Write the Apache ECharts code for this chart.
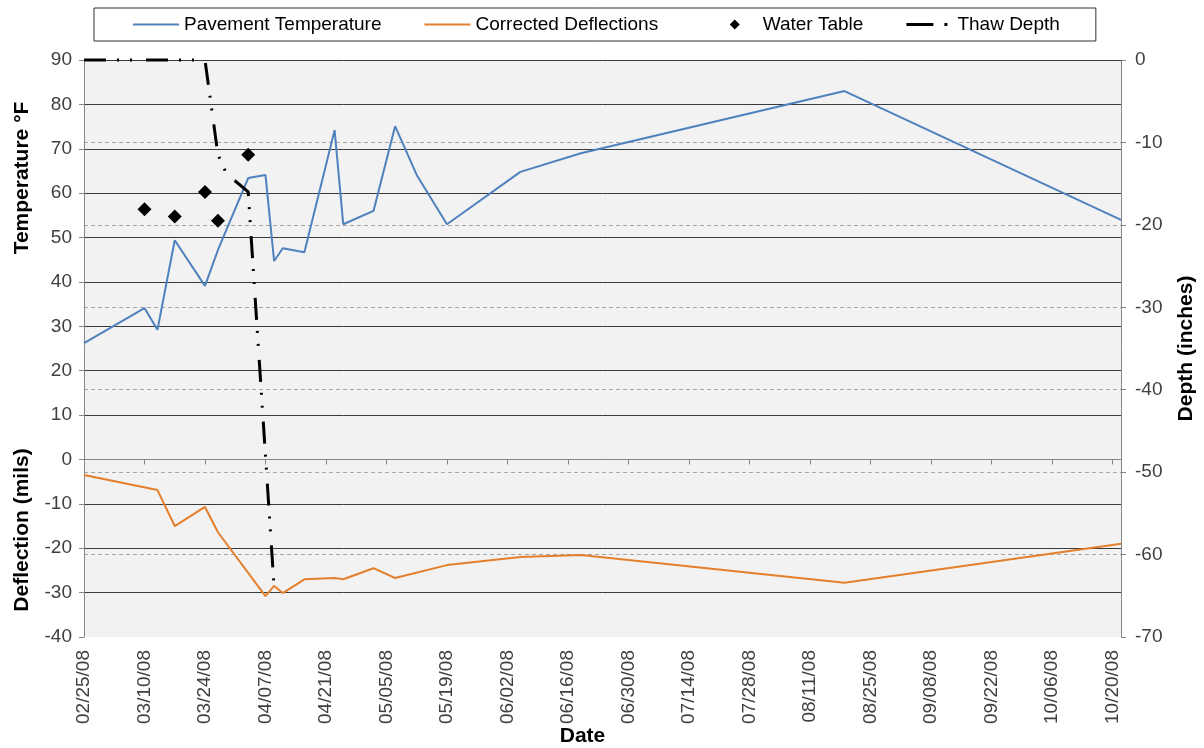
<!DOCTYPE html>
<html>
<head>
<meta charset="utf-8">
<script src="https://cdn.jsdelivr.net/npm/echarts@6/dist/echarts.min.js"></script>
<style>
  html, body { margin: 0; background: #fff; }
  #chart { width: 1204px; height: 748px; }
</style>
</head>
<body>
<div id="chart"></div>
<script>
// sample dates (pavement temperature / deflection)
const dates = ['2008-02-25', '2008-03-10', '2008-03-13', '2008-03-17', '2008-03-24', '2008-03-27',
  '2008-04-03', '2008-04-07', '2008-04-09', '2008-04-11', '2008-04-16', '2008-04-23', '2008-04-25',
  '2008-05-02', '2008-05-07', '2008-05-12', '2008-05-19', '2008-06-05', '2008-06-19', '2008-08-19',
  '2008-10-22']
const temperature = [26.2, 34.1, 29.2, 49.4, 39.1, 47.2, 63.4, 64.1, 44.7, 47.6, 46.7, 74.2, 53.0,
  56.0, 75.1, 64.1, 53.0, 64.8, 69.0, 83.0, 54.0]
const deflection = [-3.5, null, -6.9, -15.0, -10.7, -16.4, null, -30.8, -28.5, -30.1, -27.0, -26.7,
  -27.0, -24.5, -26.7, null, -23.8, -22.0, -21.5, -27.8, -19.0]

// right axis (inches)
const waterDates = ['2008-03-10', '2008-03-17', '2008-03-24', '2008-03-27', '2008-04-03']
const waterTable = [-18.1, -19.0, -16.0, -19.5, -11.5]
const thawDates = ['2008-02-25', '2008-03-24', '2008-03-27', '2008-03-29', '2008-04-03', '2008-04-09']
const thawDepth = [0, 0, -11.5, -13.8, -16.0, -64.0]

const DAY = 86400000
const toTime = s => Date.parse(s + 'T00:00:00Z')
const xMin = toTime('2008-02-25')
const xMax = toTime('2008-10-22')
const xTicks = Array.from({ length: 18 }, (_, i) => xMin + i * 14 * DAY)

const pairs = (xs, ys) => xs.map((d, i) => [toTime(d), ys[i]]).filter(p => p[1] !== null)

const pad = n => (n < 10 ? '0' : '') + n
const fmtDate = v => {
  const d = new Date(v)
  return `${pad(d.getUTCMonth() + 1)}/${pad(d.getUTCDate())}/${pad(d.getUTCFullYear() % 100)}`
}

const FONT = "'Liberation Sans', Arial, sans-serif"
const axisGray = '#868686'

// legend icons drawn in a 46x10 box (the two zero-length moves fix the box)
const BOX = 'M0,0 L0,0 M46,10 L46,10 '
const lineIcon = 'path://' + BOX + 'M0,4 H46 V6 H0 Z'
const diamondIcon = 'path://' + BOX + 'M18,5 L23,0 L28,5 L23,10 Z'
const thawIcon = 'path://' + BOX + 'M0,3.5 H27 V6.5 H0 Z M38,3.5 H41 V6.5 H38 Z'

const chart = echarts.init(document.getElementById('chart'))

const option = {
  animation: false,
  textStyle: { fontFamily: FONT },
  grid: {
    left: 84,
    right: 83,
    top: 60,
    bottom: 111,
    outerBoundsMode: 'none',
    show: true,
    backgroundColor: '#f2f2f2',
    borderWidth: 0
  },
  legend: {
    left: 94,
    top: 8,
    padding: [7, 36, 7, 39],
    borderColor: '#333',
    borderWidth: 1,
    itemGap: 43,
    itemWidth: 46,
    itemHeight: 10,
    textStyle: { fontSize: 19, color: '#000', fontFamily: FONT },
    // a little more room after the deflection entry, as in the original
    formatter: name => (name === 'Corrected Deflections' ? name + '  ' : name),
    data: [
      { name: 'Pavement Temperature', icon: lineIcon },
      { name: 'Corrected Deflections', icon: lineIcon },
      { name: 'Water Table', icon: diamondIcon },
      { name: 'Thaw Depth', icon: thawIcon }
    ]
  },
  graphic: [
    {
      type: 'text',
      x: 22,
      y: 178,
      rotation: Math.PI / 2,
      style: { text: 'Temperature °F', font: `bold 21px ${FONT}`, fill: '#000', align: 'center', verticalAlign: 'middle' }
    },
    {
      type: 'text',
      x: 22,
      y: 530,
      rotation: Math.PI / 2,
      style: { text: 'Deflection (mils)', font: `bold 21px ${FONT}`, fill: '#000', align: 'center', verticalAlign: 'middle' }
    }
  ],
  xAxis: {
    type: 'value',
    min: xMin,
    max: xMax,
    interval: 14 * DAY,
    name: 'Date',
    nameLocation: 'middle',
    nameGap: 89,
    nameMoveOverlap: false,
    nameTextStyle: { fontSize: 21, fontWeight: 'bold', color: '#000', padding: [0, 40, 0, 0] },
    axisLine: { lineStyle: { color: axisGray } },
    axisTick: { length: 5, customValues: xTicks, lineStyle: { color: axisGray } },
    axisLabel: {
      customValues: xTicks,
      rotate: 90,
      margin: 13,
      fontSize: 19,
      color: '#404040',
      formatter: fmtDate
    },
    splitLine: { show: false }
  },
  yAxis: [
    {
      type: 'value',
      min: -40,
      max: 90,
      interval: 10,
      axisLine: { show: true, lineStyle: { color: axisGray } },
      axisTick: { show: true, length: 5, lineStyle: { color: axisGray } },
      axisLabel: { fontSize: 19, color: '#404040', margin: 12 },
      splitLine: { showMinLine: false, lineStyle: { color: '#3a3a3a', width: 1 } }
    },
    {
      type: 'value',
      position: 'right',
      min: -70,
      max: 0,
      interval: 10,
      name: 'Depth (inches)',
      nameLocation: 'middle',
      nameGap: 55,
      nameRotate: 90,
      nameTextStyle: { fontSize: 21, fontWeight: 'bold', color: '#000' },
      axisLine: { show: true, lineStyle: { color: axisGray } },
      axisTick: { show: true, length: 5, lineStyle: { color: axisGray } },
      axisLabel: { fontSize: 19, color: '#404040', margin: 14 },
      splitLine: {
        show: true,
        showMinLine: false,
        showMaxLine: false,
        lineStyle: { color: '#a6a6a6', type: [4, 3], width: 1 }
      }
    }
  ],
  series: [
    {
      name: 'Pavement Temperature',
      type: 'line',
      symbol: 'none',
      data: pairs(dates, temperature),
      itemStyle: { color: '#4f81bd' },
      lineStyle: { color: '#4f81bd', width: 2 }
    },
    {
      name: 'Corrected Deflections',
      type: 'line',
      symbol: 'none',
      data: pairs(dates, deflection),
      itemStyle: { color: '#e47f2c' },
      lineStyle: { color: '#e47f2c', width: 2 }
    },
    {
      name: 'Water Table',
      type: 'scatter',
      yAxisIndex: 1,
      symbol: 'diamond',
      symbolSize: 14,
      data: pairs(waterDates, waterTable),
      itemStyle: { color: '#000', opacity: 1 }
    },
    {
      name: 'Thaw Depth',
      type: 'line',
      yAxisIndex: 1,
      symbol: 'none',
      clip: false,
      data: pairs(thawDates, thawDepth),
      itemStyle: { color: '#000' },
      lineStyle: { color: '#000', width: 3, type: [22, 11, 2, 11, 2, 14] }
    }
  ]
}

chart.setOption(option)
</script>
</body>
</html>
